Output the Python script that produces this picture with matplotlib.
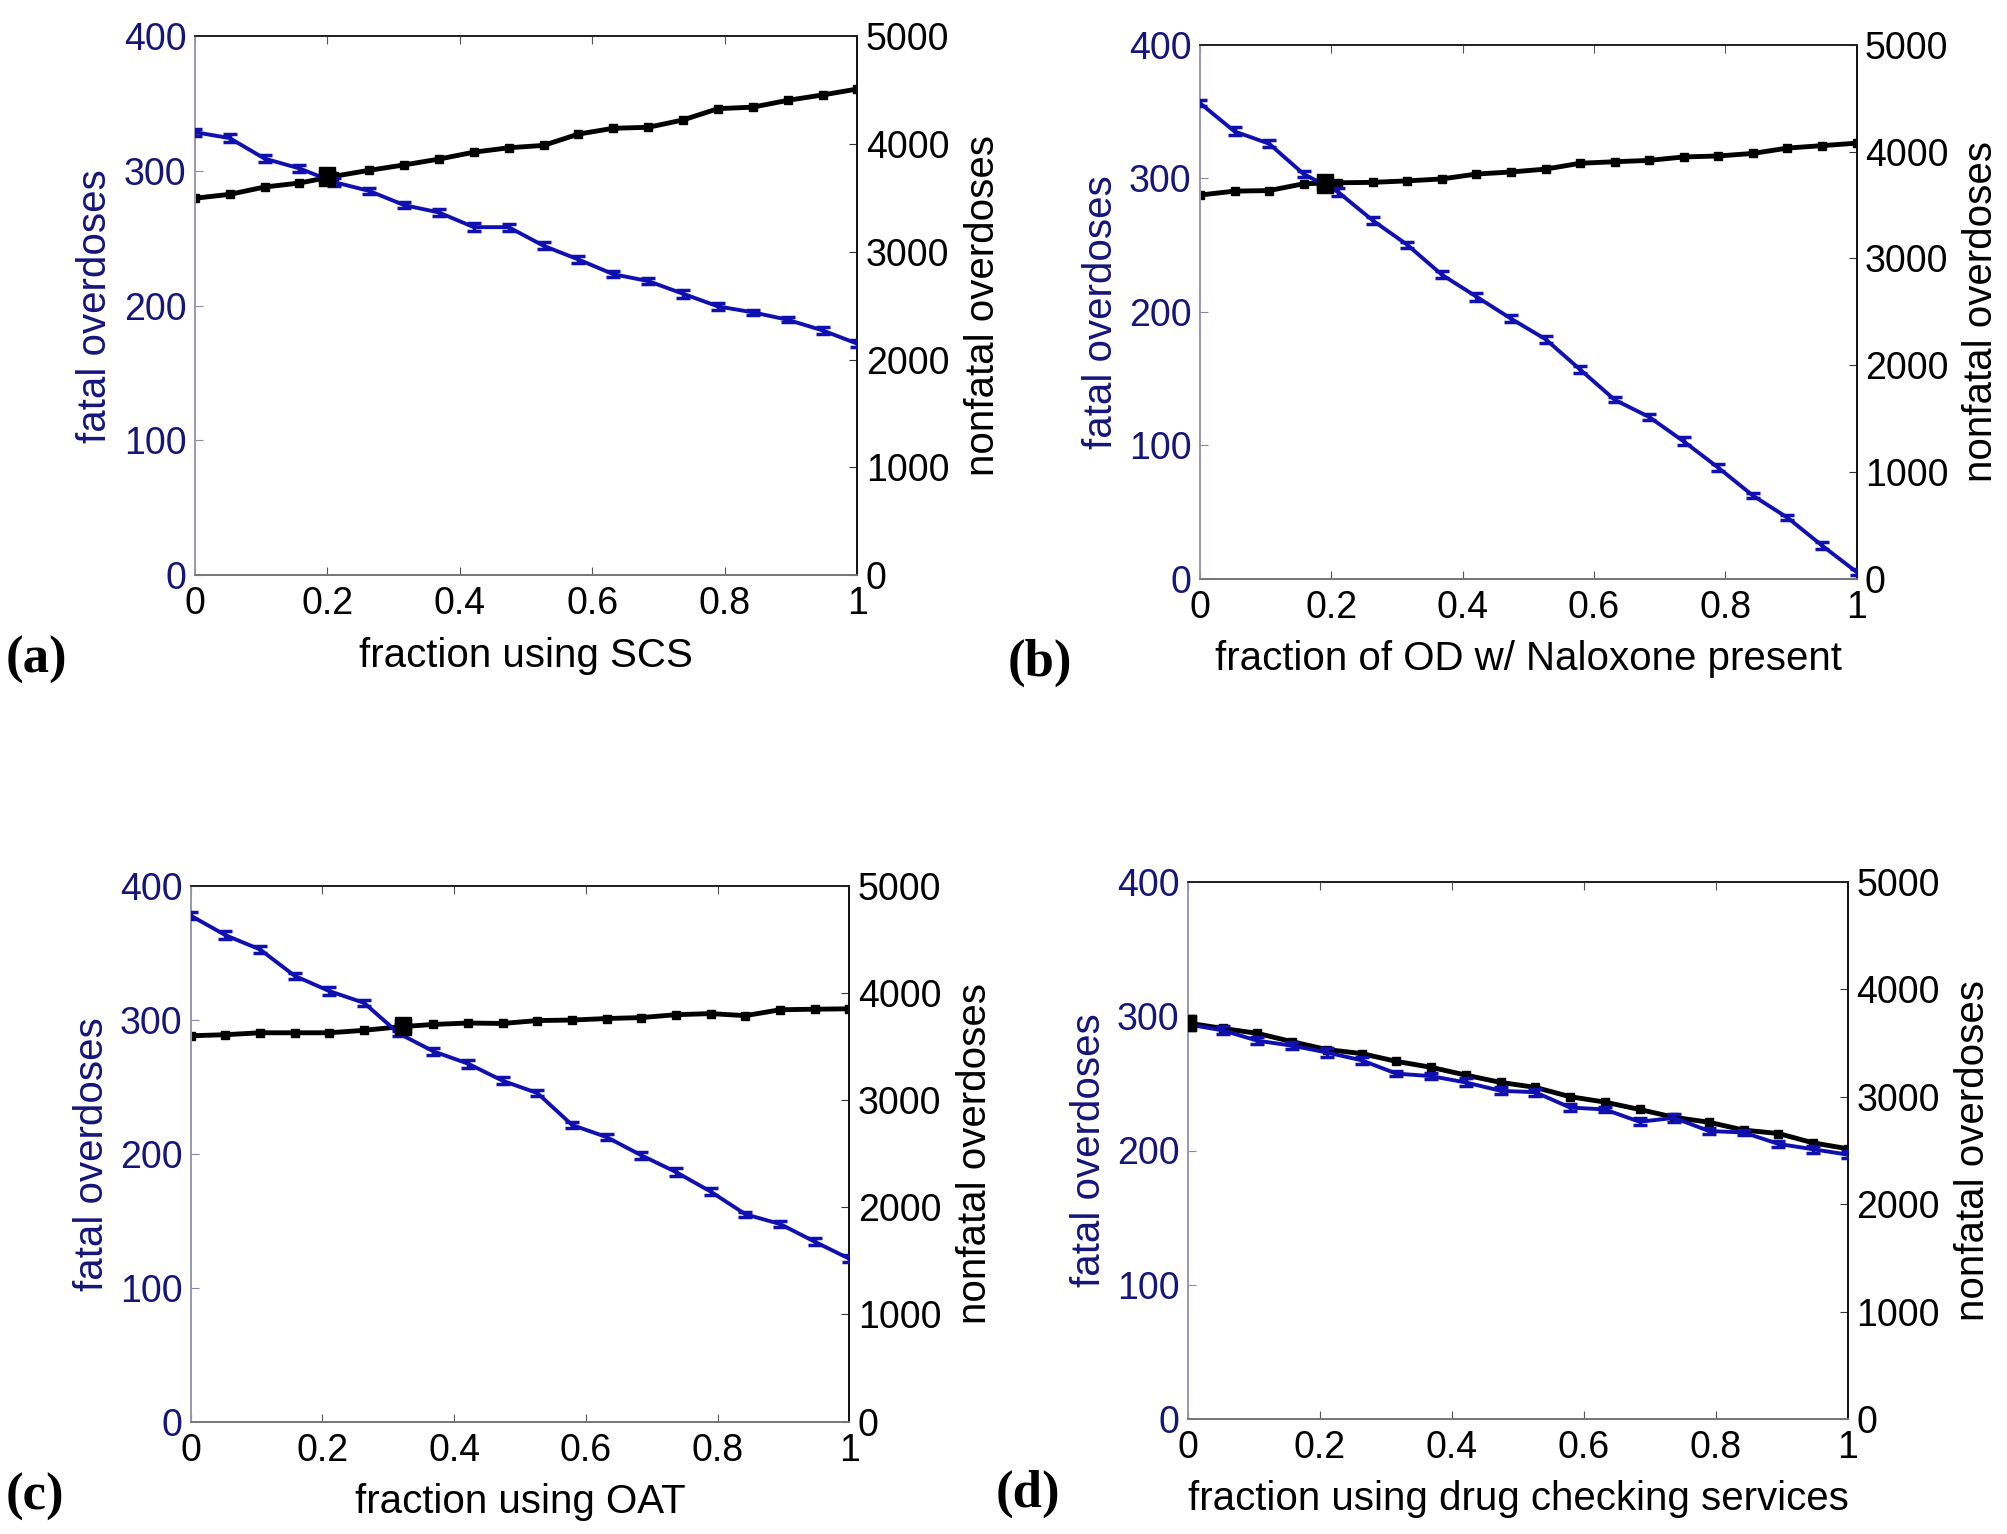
import matplotlib
matplotlib.use("Agg")
import matplotlib.pyplot as plt
import numpy as np
from matplotlib import font_manager

names = {f.name for f in font_manager.fontManager.ttflist}
SANS = 'Liberation Sans Narrow' if 'Liberation Sans Narrow' in names else 'Liberation Sans'
plt.rcParams['font.family'] = [SANS, 'DejaVu Sans']
NARROW = SANS == 'Liberation Sans Narrow'
TICK_FS = 32 if NARROW else 27
LAB_FS = 34 if NARROW else 29

x = np.linspace(0, 1, 20)

# Panel (a) SCS
fatal_a = [328.8, 324.4, 309.2, 301.9, 291.7, 285.2, 274.7, 269.2, 258.3, 258.3,
           244.5, 234.3, 223.4, 218.3, 208.9, 199.5, 195.1, 189.6, 181.7, 171.8]
nonfatal_a = [3497, 3533, 3601, 3638, 3701, 3756, 3806, 3860, 3924, 3965,
              3987, 4092, 4146, 4155, 4223, 4328, 4342, 4405, 4455, 4510]
# Panel (b) Naloxone
fatal_b = [356.4, 335.2, 326.0, 303.3, 289.7, 268.5, 250.2, 227.8, 211.4, 194.9,
           179.5, 156.8, 134.1, 121.2, 102.9, 83.2, 62.3, 45.8, 24.9, 5.1]
nonfatal_b = [3594, 3631, 3636, 3700, 3709, 3713, 3727, 3745, 3791, 3810,
              3837, 3892, 3906, 3919, 3951, 3960, 3984, 4034, 4057, 4080]
# Panel (c) OAT
fatal_c = [378.0, 363.4, 352.7, 333.0, 321.6, 312.8, 290.0, 276.6, 267.4, 254.6,
           245.4, 221.6, 212.5, 198.9, 186.4, 171.8, 154.9, 147.6, 134.4, 121.6]
nonfatal_c = [3603, 3613, 3631, 3631, 3631, 3654, 3686, 3709, 3722, 3718,
              3745, 3750, 3764, 3773, 3800, 3810, 3791, 3846, 3851, 3855]
# Panel (d) drug checking
fatal_d = [293.9, 289.5, 281.8, 278.1, 273.0, 267.2, 257.3, 255.4, 250.7, 244.5,
           243.4, 232.0, 230.6, 221.4, 224.3, 214.5, 213.4, 204.9, 200.9, 196.9]
nonfatal_d = [3687, 3637, 3591, 3513, 3440, 3403, 3330, 3275, 3202, 3134,
              3088, 3001, 2951, 2882, 2809, 2763, 2690, 2658, 2571, 2516]

fatal_err = [2.5, 3.0, 2.5, 2.5, 3.0, 2.5, 2.0, 2.5, 3.0, 2.5,
             2.5, 2.5, 2.0, 2.5, 3.0, 2.5, 2.0, 2.0, 2.5, 2.5]
nonfatal_err = [15, 15, 15, 15, 15, 15, 15, 15, 15, 15,
                15, 15, 15, 15, 15, 15, 15, 15, 15, 15]

# baseline points (x, fatal, nonfatal)
base_x = [0.2, 0.19, 0.323, 0.0]
base_fatal = [295, 295, 295, 295]
base_nonfatal = [3715, 3718, 3700, 3687]

xlabels = ["fraction using SCS", "fraction of OD w/ Naloxone present",
           "fraction using OAT", "fraction using drug checking services"]
panel_tags = ["(a)", "(b)", "(c)", "(d)"]

fatal_all = [fatal_a, fatal_b, fatal_c, fatal_d]
nonfatal_all = [nonfatal_a, nonfatal_b, nonfatal_c, nonfatal_d]

rects = [
    [0.097, 0.625, 0.330, 0.3514],
    [0.5976, 0.6227, 0.327, 0.348],
    [0.095, 0.0733, 0.328, 0.349],
    [0.5916, 0.075, 0.3287, 0.350],
]
tag_pos = [(0.003, 0.570), (0.502, 0.568), (0.003, 0.024), (0.496, 0.026)]

NAVY = '#15157a'
BLUE = '#1010b0'

fig = plt.figure(figsize=(20.08, 15.34), dpi=100)

for i in range(4):
    ax = fig.add_axes(rects[i])
    ax2 = ax.twinx()
    ax.set_zorder(ax2.get_zorder() + 1)
    ax.patch.set_visible(False)

    ax2.errorbar(x, nonfatal_all[i], yerr=nonfatal_err, color='black', lw=3.5,
                 marker='s', ms=6, capsize=3, elinewidth=1.5, zorder=2)
    ax2.errorbar([base_x[i]], [base_nonfatal[i]], yerr=[25], color='black',
                 marker='s', ms=12, capsize=6, elinewidth=2, zorder=5)
    ax.errorbar(x, fatal_all[i], yerr=fatal_err, color=BLUE, lw=2.8,
                capsize=5, elinewidth=2.5, capthick=2.5, zorder=3)
    ax.plot([base_x[i]], [base_fatal[i]], marker='s', ms=12, color='black',
            zorder=6)

    ax.set_xlim(0, 1)
    ax.set_ylim(0, 400)
    ax2.set_ylim(0, 5000)
    ax.set_xticks([0, 0.2, 0.4, 0.6, 0.8, 1])
    ax.set_xticklabels(['0', '0.2', '0.4', '0.6', '0.8', '1'])
    ax.set_yticks([0, 100, 200, 300, 400])
    ax2.set_yticks([0, 1000, 2000, 3000, 4000, 5000])

    ax.tick_params(axis='x', direction='in', length=6, labelsize=TICK_FS, pad=8,
                   top=True, colors='#555555', labelcolor='black')
    ax.tick_params(axis='y', direction='in', length=6, labelsize=TICK_FS, pad=6,
                   colors='#8888a0', labelcolor=NAVY)
    ax2.tick_params(axis='y', direction='in', length=6, labelsize=TICK_FS, pad=6,
                    colors='#333333', labelcolor='black')

    for a in (ax, ax2):
        a.spines['left'].set_color('#9a9ab0')
        a.spines['bottom'].set_color('#777777')
        a.spines['top'].set_color('#222222')
        a.spines['right'].set_color('#111111')
        for s in a.spines.values():
            s.set_linewidth(1.3)

    ax.set_ylabel('fatal overdoses', fontsize=LAB_FS, color=NAVY)
    ax.yaxis.set_label_coords(-0.15, 0.5)
    ax.yaxis.label.set_va('center')
    ax2.set_ylabel('nonfatal overdoses', fontsize=LAB_FS, color='black')
    ax2.yaxis.set_label_coords(1.19, 0.5)
    ax2.yaxis.label.set_va('center')
    ax.set_xlabel(xlabels[i], fontsize=LAB_FS, color='black')
    ax.xaxis.set_label_coords(0.5, -0.15)
    ax.xaxis.label.set_va('center')

    fig.text(tag_pos[i][0], tag_pos[i][1], panel_tags[i], fontsize=38,
             fontweight='bold', family='Liberation Serif', va='center',
             ha='left')

fig.savefig('out.png', dpi=100, facecolor='white')
